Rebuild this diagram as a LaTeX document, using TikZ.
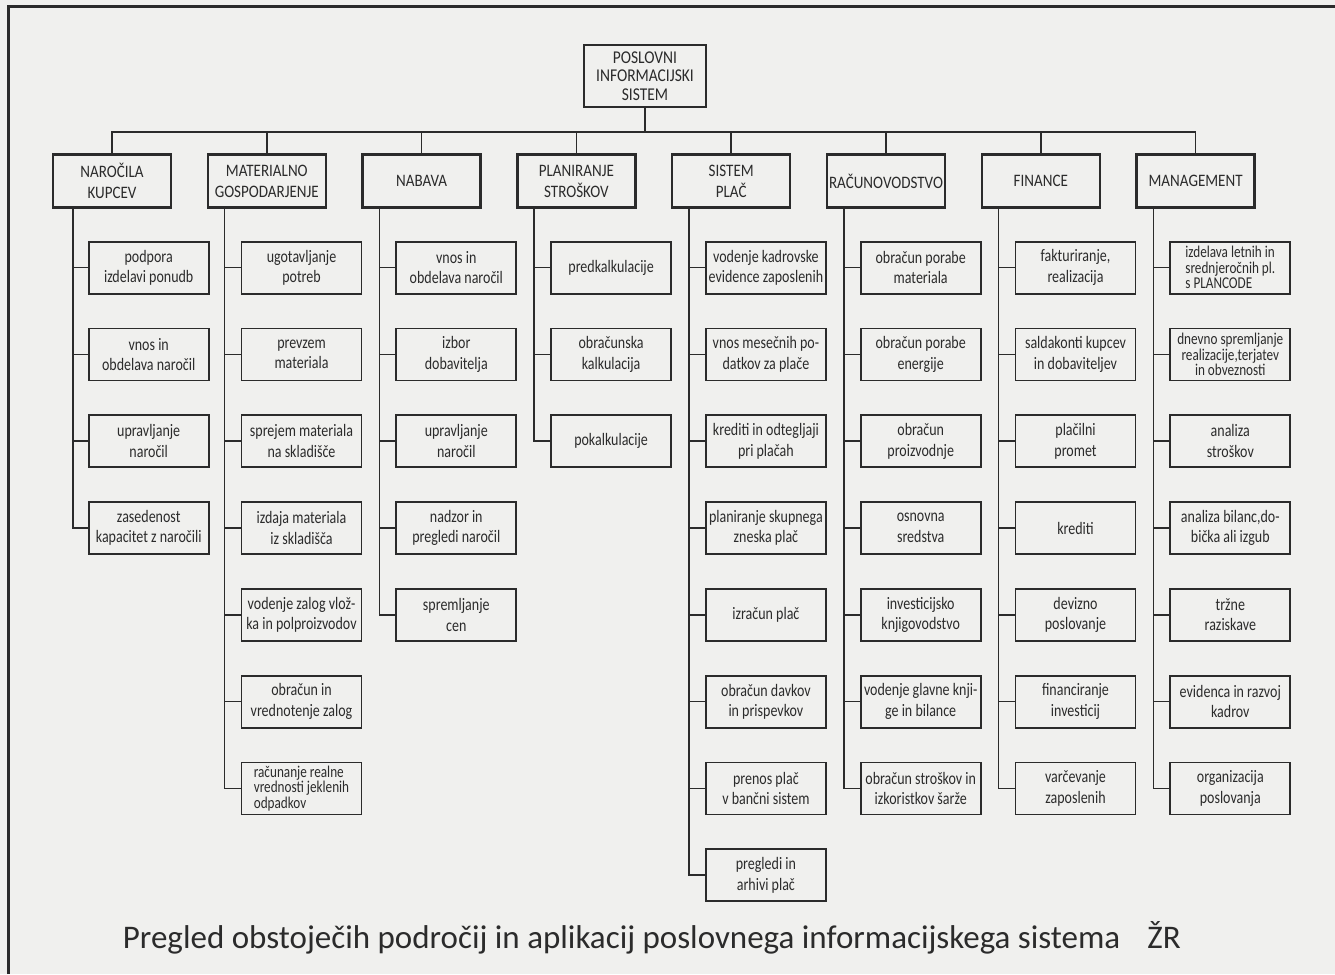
\documentclass[tikz,border=0pt]{standalone}
\usepackage{fontspec}
\setmainfont{Carlito}
\newfontfamily\boxfont{Carlito}[FakeStretch=0.8]
\newfontfamily\headfont{Carlito}[FakeStretch=0.86]
\usetikzlibrary{positioning}
\definecolor{paperGray}{HTML}{F0F0EE}
\definecolor{inkDark}{HTML}{2B2B2B}
\tikzset{
  boxTop/.style={rectangle, draw=inkDark, line width=2.4pt, fill=paperGray, text=inkDark,
                 align=center, font=\headfont\fontsize{18}{18.5}\selectfont, inner sep=2pt,
                 minimum width=122pt, minimum height=62pt},
  boxHead/.style={rectangle, draw=inkDark, line width=2.4pt, fill=paperGray, text=inkDark,
                  align=center, font=\headfont\fontsize{17.5}{21}\selectfont, inner sep=2pt,
                  minimum width=118pt, minimum height=53pt},
  boxItem/.style={rectangle, draw=inkDark, line width=1.8pt, fill=paperGray, text=inkDark,
                  align=center, font=\boxfont\fontsize{17.5}{20.5}\selectfont, inner sep=1.5pt,
                  minimum width=120pt, minimum height=52pt},
  boxTight/.style={font=\boxfont\fontsize{16.5}{15.5}\selectfont},
  lineC/.style={draw=inkDark, line width=1.5pt},
}
\begin{document}
\begin{tikzpicture}[x=1pt, y=-1pt, node distance=33pt]
    \useasboundingbox (0,0) rectangle (1335,974);
    \fill[paperGray] (0,0) rectangle (1335,974);
    \draw[inkDark, line width=3pt] (8,974) -- (8,7) -- (1335,7);

    % root and first level
    \node[boxTop] (root) at (645,76) {POSLOVNI\\INFORMACIJSKI\\SISTEM};
    \node[boxHead] (kup) at (112,181) {NAROČILA\\KUPCEV};
    \node[boxHead, right=34.4pt of kup] (mat) {MATERIALNO\\GOSPODARJENJE};
    \node[boxHead, right=34.4pt of mat] (nab) {NABAVA};
    \node[boxHead, right=34.4pt of nab] (pla) {PLANIRANJE\\STROŠKOV};
    \node[boxHead, right=34.4pt of pla] (sis) {SISTEM\\PLAČ};
    \node[boxHead, right=34.4pt of sis] (rac) {RAČUNOVODSTVO};
    \node[boxHead, right=34.4pt of rac] (fin) {FINANCE};
    \node[boxHead, right=34.4pt of fin] (man) {MANAGEMENT};

    \coordinate (bus) at ([yshift=-24pt]root.south);
    \draw[lineC] (root.south) -- (bus);
    \draw[lineC] (kup.north) |- (bus) -| (man.north);
    \draw[lineC] (mat.north) -- (mat.north |- bus) (nab.north) -- (nab.north |- bus)
                 (pla.north) -- (pla.north |- bus) (sis.north) -- (sis.north |- bus)
                 (rac.north) -- (rac.north |- bus) (fin.north) -- (fin.north |- bus);

    % narocila kupcev
    \node[boxItem, anchor=north west] (kup1) at ([xshift=36pt, yshift=-32pt]kup.south west)
      {podpora\\izdelavi ponudb};
    \node[boxItem, below=of kup1] (kup2) {vnos in\\obdelava naročil};
    \node[boxItem, below=of kup2] (kup3) {upravljanje\\naročil};
    \node[boxItem, below=of kup3] (kup4) {zasedenost\\kapacitet z naročili};
    \coordinate (skup) at ([xshift=21pt]kup.south west);
    \draw[lineC] (skup) |- (kup4.west) (kup1.west) -- (kup1.west -| skup)
                 (kup2.west) -- (kup2.west -| skup) (kup3.west) -- (kup3.west -| skup);

    % materialno gospodarjenje
    \node[boxItem, anchor=north west] (mat1) at ([xshift=34pt, yshift=-32pt]mat.south west)
      {ugotavljanje\\potreb};
    \node[boxItem, below=of mat1] (mat2) {prevzem\\materiala};
    \node[boxItem, below=of mat2] (mat3) {sprejem materiala\\na skladišče};
    \node[boxItem, below=of mat3] (mat4) {izdaja materiala\\iz skladišča};
    \node[boxItem, below=of mat4] (mat5) {vodenje zalog vlož-\\ka in polproizvodov};
    \node[boxItem, below=of mat5] (mat6) {obračun in\\vrednotenje zalog};
    \node[boxItem, boxTight, below=of mat6, align=left] (mat7)
      {računanje realne\\vrednosti jeklenih\\odpadkov};
    \coordinate (smat) at ([xshift=18pt]mat.south west);
    \draw[lineC] (smat) |- (mat7.west) (mat1.west) -- (mat1.west -| smat)
                 (mat2.west) -- (mat2.west -| smat) (mat3.west) -- (mat3.west -| smat)
                 (mat4.west) -- (mat4.west -| smat) (mat5.west) -- (mat5.west -| smat)
                 (mat6.west) -- (mat6.west -| smat);

    % nabava
    \node[boxItem, anchor=north west] (nab1) at ([xshift=34pt, yshift=-32pt]nab.south west)
      {vnos in\\obdelava naročil};
    \node[boxItem, below=of nab1] (nab2) {izbor\\dobavitelja};
    \node[boxItem, below=of nab2] (nab3) {upravljanje\\naročil};
    \node[boxItem, below=of nab3] (nab4) {nadzor in\\pregledi naročil};
    \node[boxItem, below=of nab4] (nab5) {spremljanje\\cen};
    \coordinate (snab) at ([xshift=18pt]nab.south west);
    \draw[lineC] (snab) |- (nab5.west) (nab1.west) -- (nab1.west -| snab)
                 (nab2.west) -- (nab2.west -| snab) (nab3.west) -- (nab3.west -| snab)
                 (nab4.west) -- (nab4.west -| snab);

    % planiranje stroskov
    \node[boxItem, anchor=north west] (pla1) at ([xshift=34pt, yshift=-32pt]pla.south west)
      {predkalkulacije};
    \node[boxItem, below=of pla1] (pla2) {obračunska\\kalkulacija};
    \node[boxItem, below=of pla2] (pla3) {pokalkulacije};
    \coordinate (spla) at ([xshift=18pt]pla.south west);
    \draw[lineC] (spla) |- (pla3.west) (pla1.west) -- (pla1.west -| spla)
                 (pla2.west) -- (pla2.west -| spla);

    % sistem plac
    \node[boxItem, anchor=north west] (sis1) at ([xshift=34pt, yshift=-32pt]sis.south west)
      {vodenje kadrovske\\evidence zaposlenih};
    \node[boxItem, below=of sis1] (sis2) {vnos mesečnih po-\\datkov za plače};
    \node[boxItem, below=of sis2] (sis3) {krediti in odtegljaji\\pri plačah};
    \node[boxItem, below=of sis3] (sis4) {planiranje skupnega\\zneska plač};
    \node[boxItem, below=of sis4] (sis5) {izračun plač};
    \node[boxItem, below=of sis5] (sis6) {obračun davkov\\in prispevkov};
    \node[boxItem, below=of sis6] (sis7) {prenos plač\\v bančni sistem};
    \node[boxItem, below=of sis7] (sis8) {pregledi in\\arhivi plač};
    \coordinate (ssis) at ([xshift=18pt]sis.south west);
    \draw[lineC] (ssis) |- (sis8.west) (sis1.west) -- (sis1.west -| ssis)
                 (sis2.west) -- (sis2.west -| ssis) (sis3.west) -- (sis3.west -| ssis)
                 (sis4.west) -- (sis4.west -| ssis) (sis5.west) -- (sis5.west -| ssis)
                 (sis6.west) -- (sis6.west -| ssis) (sis7.west) -- (sis7.west -| ssis);

    % racunovodstvo
    \node[boxItem, anchor=north west] (rac1) at ([xshift=34pt, yshift=-32pt]rac.south west)
      {obračun porabe\\materiala};
    \node[boxItem, below=of rac1] (rac2) {obračun porabe\\energije};
    \node[boxItem, below=of rac2] (rac3) {obračun\\proizvodnje};
    \node[boxItem, below=of rac3] (rac4) {osnovna\\sredstva};
    \node[boxItem, below=of rac4] (rac5) {investicijsko\\knjigovodstvo};
    \node[boxItem, below=of rac5] (rac6) {vodenje glavne knji-\\ge in bilance};
    \node[boxItem, below=of rac6] (rac7) {obračun stroškov in\\izkoristkov šarže};
    \coordinate (srac) at ([xshift=18pt]rac.south west);
    \draw[lineC] (srac) |- (rac7.west) (rac1.west) -- (rac1.west -| srac)
                 (rac2.west) -- (rac2.west -| srac) (rac3.west) -- (rac3.west -| srac)
                 (rac4.west) -- (rac4.west -| srac) (rac5.west) -- (rac5.west -| srac)
                 (rac6.west) -- (rac6.west -| srac);

    % finance
    \node[boxItem, anchor=north west] (fin1) at ([xshift=34pt, yshift=-32pt]fin.south west)
      {fakturiranje,\\realizacija};
    \node[boxItem, below=of fin1] (fin2) {saldakonti kupcev\\in dobaviteljev};
    \node[boxItem, below=of fin2] (fin3) {plačilni\\promet};
    \node[boxItem, below=of fin3] (fin4) {krediti};
    \node[boxItem, below=of fin4] (fin5) {devizno\\poslovanje};
    \node[boxItem, below=of fin5] (fin6) {financiranje\\investicij};
    \node[boxItem, below=of fin6] (fin7) {varčevanje\\zaposlenih};
    \coordinate (sfin) at ([xshift=18pt]fin.south west);
    \draw[lineC] (sfin) |- (fin7.west) (fin1.west) -- (fin1.west -| sfin)
                 (fin2.west) -- (fin2.west -| sfin) (fin3.west) -- (fin3.west -| sfin)
                 (fin4.west) -- (fin4.west -| sfin) (fin5.west) -- (fin5.west -| sfin)
                 (fin6.west) -- (fin6.west -| sfin);

    % management
    \node[boxItem, boxTight, anchor=north west, align=left] (man1)
      at ([xshift=34pt, yshift=-32pt]man.south west)
      {izdelava letnih in\\srednjeročnih pl.\\s PLANCODE};
    \node[boxItem, boxTight, below=of man1] (man2)
      {dnevno spremljanje\\realizacije,terjatev\\in obveznosti};
    \node[boxItem, below=of man2] (man3) {analiza\\stroškov};
    \node[boxItem, below=of man3] (man4) {analiza bilanc,do-\\bička ali izgub};
    \node[boxItem, below=of man4] (man5) {tržne\\raziskave};
    \node[boxItem, below=of man5] (man6) {evidenca in razvoj\\kadrov};
    \node[boxItem, below=of man6] (man7) {organizacija\\poslovanja};
    \coordinate (sman) at ([xshift=18pt]man.south west);
    \draw[lineC] (sman) |- (man7.west) (man1.west) -- (man1.west -| sman)
                 (man2.west) -- (man2.west -| sman) (man3.west) -- (man3.west -| sman)
                 (man4.west) -- (man4.west -| sman) (man5.west) -- (man5.west -| sman)
                 (man6.west) -- (man6.west -| sman);

    \node[text=inkDark, font=\fontsize{33}{38}\selectfont] (cap) at (652,938)
      {Pregled obstoječih področij in aplikacij poslovnega informacijskega sistema\hspace{0.6em} ŽR};
  \end{tikzpicture}
\end{document}
